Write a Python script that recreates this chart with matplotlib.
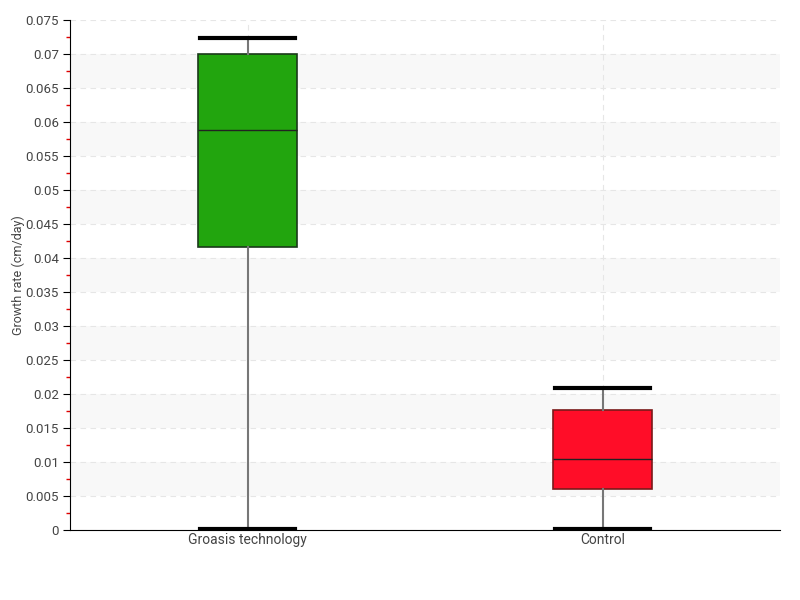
import matplotlib.pyplot as plt
from matplotlib.ticker import MultipleLocator

categories = ['Groasis technology', 'Control']
whisker_low = [0.0001, 0.0001]
q1 = [0.0416, 0.0060]
medians = [0.0588, 0.01044]
q3 = [0.0700, 0.01765]
whisker_high = [0.07235, 0.02088]
colors = ['#22a50e', '#ff0d28']

plt.rcParams['font.family'] = ['Roboto', 'DejaVu Sans']

fig = plt.figure(figsize=(8, 6), dpi=100)
ax = fig.add_axes([0.0875, 0.1167, 0.8875, 0.85])

# alternating bands
for lo in [0.005, 0.015, 0.025, 0.035, 0.045, 0.055, 0.065]:
    ax.axhspan(lo, lo + 0.005, color='#f8f8f8', zorder=0, lw=0)

stats = []
for i, name in enumerate(categories):
    stats.append({'label': name, 'whislo': whisker_low[i], 'q1': q1[i],
                  'med': medians[i], 'q3': q3[i], 'whishi': whisker_high[i],
                  'fliers': []})

bp = ax.bxp(stats, positions=range(len(categories)), widths=0.28,
            patch_artist=True, showfliers=False,
            whiskerprops=dict(color='#777777', lw=1.5),
            capprops=dict(color='black', lw=3),
            medianprops=dict(color='#222222', lw=1),
            boxprops=dict(lw=1.2))
for patch, c in zip(bp['boxes'], colors):
    patch.set_facecolor(c)
    patch.set_edgecolor('#1a3a1a' if c == colors[0] else '#7a1a1a')
for cap in bp['caps']:
    x = cap.get_xdata()
    mid = (x[0] + x[1]) / 2
    cap.set_xdata([mid - 0.135, mid + 0.135])

ax.set_xlim(-0.5, 1.5)
ax.set_ylim(0, 0.075)
ax.yaxis.set_major_locator(MultipleLocator(0.005))
ax.yaxis.set_minor_locator(MultipleLocator(0.0025))
ax.set_yticklabels([('%g' % v) for v in ax.get_yticks()])
ax.grid(True, which='major', color='#e6e6e6', ls=(0, (5, 4)), lw=0.8)
ax.set_axisbelow(True)

for s in ['top', 'right']:
    ax.spines[s].set_visible(False)
ax.tick_params(axis='y', which='major', length=5, color='black',
               labelsize=9.5, labelcolor='#444444', pad=3)
ax.tick_params(axis='y', which='minor', length=3, width=1, color='#e00000')
ax.tick_params(axis='x', length=0, labelsize=10, labelcolor='#444444', pad=2)
ax.set_ylabel('Growth rate (cm/day)', fontsize=9, color='#444444')
ax.yaxis.set_label_coords(-0.064, 0.5)

fig.savefig('out.png', dpi=100)
